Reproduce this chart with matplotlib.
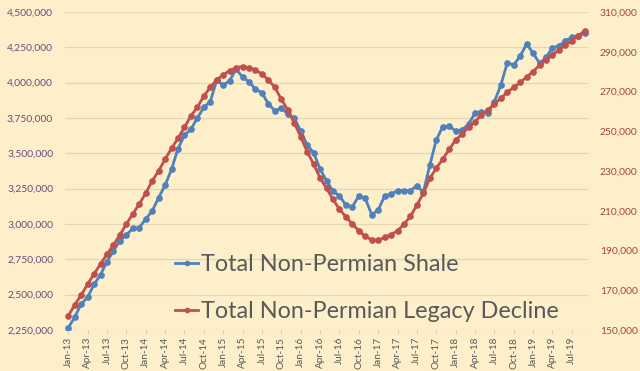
import matplotlib
matplotlib.use("Agg")
import matplotlib.pyplot as plt
from matplotlib.ticker import FuncFormatter, MultipleLocator
import pandas as pd

months = pd.date_range("2013-01-01", "2019-09-01", freq="MS")
month_labels = [d.strftime("%b-%y") for d in months]

shale = [2266, 2340, 2434, 2481, 2573, 2641, 2733, 2811, 2882, 2922,
         2969, 2974, 3035, 3092, 3186, 3274, 3387, 3533, 3628, 3670,
         3750, 3826, 3865, 4019, 3983, 4014, 4097, 4038, 4007, 3953,
         3929, 3849, 3802, 3819, 3778, 3748, 3660, 3559, 3505, 3390,
         3305, 3232, 3200, 3134, 3122, 3198, 3182, 3066, 3099, 3198,
         3212, 3236, 3236, 3236, 3271, 3224, 3417, 3594, 3689, 3693,
         3658, 3665, 3708, 3783, 3795, 3787, 3865, 3983, 4141, 4125,
         4189, 4274, 4208, 4137, 4179, 4248, 4259, 4297, 4321, 4330,
         4349]
shale = [v * 1000 for v in shale]

legacy = [157.1, 162.6, 167.6, 173.0, 178.2, 183.2, 188.1, 192.8, 197.8, 203.3,
          208.4, 213.4, 218.8, 225.0, 230.0, 235.9, 241.4, 246.5, 252.0, 257.7,
          262.1, 267.7, 272.1, 276.0, 278.3, 280.5, 282.0, 282.5, 282.0, 280.8,
          278.8, 275.8, 272.1, 266.1, 260.7, 254.3, 247.3, 239.7, 233.5, 226.5,
          221.3, 215.8, 210.7, 207.0, 203.3, 200.0, 197.1, 195.4, 195.1, 196.6,
          198.0, 199.9, 203.2, 207.2, 212.9, 218.8, 226.3, 231.4, 235.9, 240.9,
          245.6, 248.6, 252.0, 254.8, 258.2, 260.7, 263.6, 266.6, 269.6, 272.1,
          274.6, 277.4, 280.0, 283.3, 285.9, 288.4, 290.9, 293.4, 295.6, 298.1,
          300.6]
legacy = [v * 1000 for v in legacy]

left_ticks = list(range(2250000, 4500001, 250000))
right_ticks = list(range(150000, 310001, 20000))

series_names = ["Total Non-Permian Shale", "Total Non-Permian Legacy Decline"]

BG = "#FCEFCA"
BLUE = "#4F81BD"
RED = "#C0504D"
GRID = "#E3D6B4"

fig = plt.figure(figsize=(6.4, 3.71), dpi=100, facecolor=BG)
ax = fig.add_axes([65/640, 1-330/371, (588-65)/640, (330-12)/371])
ax.set_facecolor(BG)
x = list(range(len(months)))

ax2 = ax.twinx()
l1, = ax.plot(x, shale, color=BLUE, lw=2.0, marker="o", ms=3.8, label=series_names[0], zorder=3)
l2, = ax2.plot(x, legacy, color=RED, lw=2.0, marker="o", ms=3.8, label=series_names[1], zorder=3)

ax.set_xlim(-0.5, len(months) - 0.5)
ax.set_ylim(left_ticks[0], left_ticks[-1])
ax.set_yticks(left_ticks)
ax.yaxis.set_major_formatter(FuncFormatter(lambda v, p: f"{int(round(v)):,}"))
ax2.set_ylim(right_ticks[0], right_ticks[-1])
ax2.set_yticks(right_ticks)
ax2.yaxis.set_major_formatter(FuncFormatter(lambda v, p: f"{int(round(v)):,}"))

ax.grid(axis="y", color=GRID, lw=0.9)
ax.set_axisbelow(True)
for a in (ax, ax2):
    for s in a.spines.values():
        s.set_visible(False)

ax.set_xticks(x[::3])
ax.set_xticklabels(month_labels[::3], rotation=90, fontsize=7.2, color="#595959",
                   family="Lato")
ax.tick_params(axis="x", length=3, color="#D9CCA8", pad=2)
for a, c in ((ax, "#6B4C7C"), (ax2, "#A8453B")):
    a.tick_params(axis="y", length=0, labelsize=7.4, labelcolor=c, pad=8.5)
    for t in a.get_yticklabels():
        t.set_family("Lato")

leg = ax.legend([l1, l2], series_names, loc="upper left",
                bbox_to_anchor=((175-65)/523, 1-(254-12)/318), frameon=False,
                prop={"family": "Lato", "size": 16.8}, labelcolor="#595959",
                handlelength=1.0, handletextpad=0.1, labelspacing=1.1,
                borderaxespad=0, borderpad=0)
for h in leg.legend_handles:
    h.set_markersize(3)
    h.set_linewidth(2)

fig.savefig("out.png", dpi=100, facecolor=BG)
